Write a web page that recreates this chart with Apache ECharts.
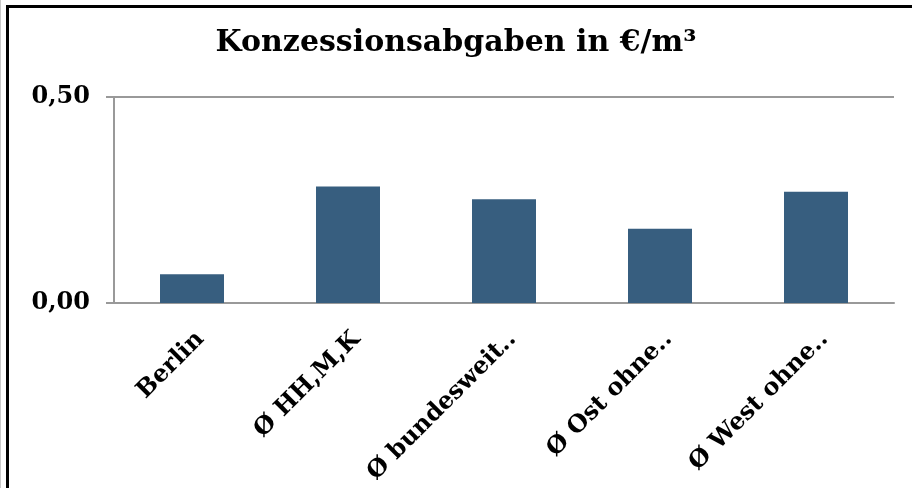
<!DOCTYPE html>
<html>
<head>
<meta charset="utf-8">
<script src="https://cdn.jsdelivr.net/npm/echarts@6/dist/echarts.min.js"></script>
<style>
  html, body { margin: 0; padding: 0; background: #fff; overflow: hidden; }
  #frame { position: absolute; left: 0; top: 0; width: 912px; height: 488px; border-left: 1px solid #c8c8c8; box-sizing: border-box; }
  #edge { position: absolute; left: 6px; top: 5px; width: 906px; height: 483px; border-left: 3px solid #000; border-top: 3px solid #000; box-sizing: border-box; }
  #chart { position: absolute; left: 0; top: 0; width: 912px; height: 488px; }
</style>
</head>
<body>
<div id="frame"></div>
<div id="edge"></div>
<div id="chart"></div>
<script>
var categories = ['Berlin', 'Ø HH,M,K', 'Ø bundesweit..', 'Ø Ost ohne..', 'Ø West ohne..'];
var values = [0.07, 0.283, 0.252, 0.18, 0.27];

var serif = '"DejaVu Serif", "Liberation Serif", serif';
var myChart = echarts.init(document.getElementById('chart'));

var option = {
    animation: false,
    title: {
        text: 'Konzessionsabgaben in €/m³',
        left: 'center',
        top: 23,
        textStyle: {
            fontFamily: serif,
            fontWeight: 'bold',
            fontSize: 30,
            color: '#000'
        }
    },
    grid: {
        left: 114,
        right: 18,
        top: 97,
        bottom: 185
    },
    xAxis: {
        type: 'category',
        data: categories,
        axisLine: { lineStyle: { color: '#999', width: 2 } },
        axisTick: { length: 9, lineStyle: { color: '#999', width: 2 } },
        axisLabel: {
            interval: 0,
            rotate: 45,
            margin: 24,
            verticalAlign: 'top',
            color: '#000',
            fontFamily: serif,
            fontWeight: 'bold',
            fontSize: 24
        }
    },
    yAxis: {
        type: 'value',
        min: 0,
        max: 0.5,
        interval: 0.5,
        axisLine: { show: true, lineStyle: { color: '#999', width: 2 } },
        axisTick: { show: true, length: 8, lineStyle: { color: '#999', width: 2 } },
        splitLine: { lineStyle: { color: '#999', width: 2 } },
        axisLabel: {
            margin: 24,
            padding: [6, 0, 0, 0],
            color: '#000',
            fontFamily: serif,
            fontWeight: 'bold',
            fontSize: 24,
            formatter: function (v) {
                return v.toFixed(2).replace('.', ',');
            }
        }
    },
    series: [{
        type: 'bar',
        data: values,
        barWidth: 64,
        itemStyle: { color: '#375e7f' }
    }]
};
myChart.setOption(option);
</script>
</body>
</html>
